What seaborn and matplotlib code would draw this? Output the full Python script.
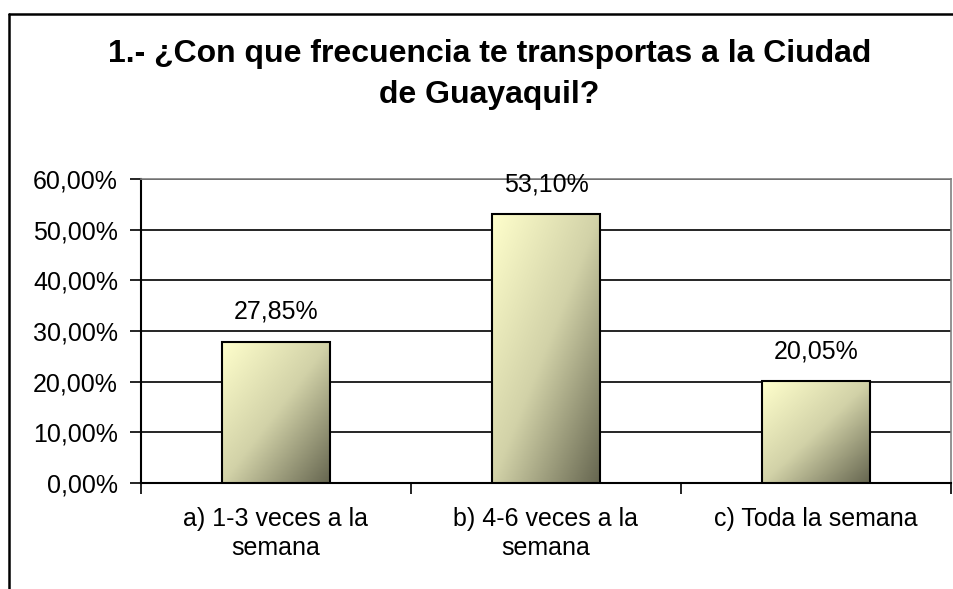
import numpy as np
import pandas as pd
import matplotlib
matplotlib.use("Agg")
import matplotlib.pyplot as plt
import seaborn as sns
from matplotlib.colors import LinearSegmentedColormap
from matplotlib.lines import Line2D
from matplotlib.ticker import FixedLocator, FuncFormatter

categories = ["a) 1-3 veces a la\nsemana", "b) 4-6 veces a la\nsemana", "c) Toda la semana"]
values = [27.85, 53.10, 20.05]
value_labels = ["27,85%", "53,10%", "20,05%"]
yticks = [0, 10, 20, 30, 40, 50, 60]
title_lines = ["1.- ¿Con que frecuencia te transportas a la Ciudad", "de Guayaquil?"]

sns.set_theme(style="white")
plt.rcParams['font.family'] = ['Liberation Sans', 'DejaVu Sans']
plt.rcParams['text.color'] = 'black'
plt.rcParams['xtick.color'] = 'black'
plt.rcParams['ytick.color'] = 'black'

fig = plt.figure(figsize=(9.54, 5.89), dpi=100)
ax = fig.add_axes([141/954, 1-483/589, 810/954, 304/589])

df = pd.DataFrame({"cat": categories, "val": values})
sns.barplot(data=df, x="cat", y="val", ax=ax, color="#d8d8b0", width=0.4,
            edgecolor="black", linewidth=1.5, zorder=3)

# gradient fill: top-left light yellow -> bottom-right dark olive
cmap = LinearSegmentedColormap.from_list("g", ["#ffffcc", "#d2d2a8", "#666650"])
n = 200
yy, xx = np.mgrid[0:1:n*1j, 0:1:n*1j]
grad = (xx + yy) / 2.0  # row 0 is top (origin upper)
for p in ax.patches:
    x0, y0 = p.get_x(), p.get_y()
    w, h = p.get_width(), p.get_height()
    im = ax.imshow(grad, cmap=cmap, extent=[x0, x0 + w, y0, y0 + h], origin="upper",
                   aspect="auto", zorder=3.5, interpolation="bilinear")
    im.set_clip_path(p)
    p.set_facecolor("none")
    p.set_zorder(4)

ax.set_xlim(-0.5, 2.5)
ax.set_ylim(0, 60)

for i, (v, lab) in enumerate(zip(values, value_labels)):
    ax.annotate(lab, (i, v), xytext=(0, 16.5), textcoords="offset points",
                ha="center", va="baseline", fontsize=18, color="black")

ax.yaxis.set_major_locator(FixedLocator(yticks))
ax.yaxis.set_major_formatter(FuncFormatter(lambda v, p: f"{v:.2f}".replace(".", ",") + "%"))
ax.grid(axis="y", color="black", linewidth=1.2, zorder=0)
ax.set_axisbelow(True)

ax.set_xlabel("")
ax.set_ylabel("")
ax.tick_params(axis="y", which="major", length=8, width=1.2, color="black", direction="out",
               labelsize=18, pad=8.5, left=True)
ax.tick_params(axis="x", which="major", length=0, labelsize=18, pad=17)
ax.set_xticks([-0.5, 0.5, 1.5, 2.5], minor=True)
ax.tick_params(axis="x", which="minor", length=8, width=1.2, color="black", direction="out", bottom=True)
for t in ax.get_xticklabels():
    t.set_linespacing(1.3)

for s in ["left", "bottom"]:
    ax.spines[s].set_color("black")
    ax.spines[s].set_linewidth(1.5)
for s in ["top", "right"]:
    ax.spines[s].set_color("#808080")
    ax.spines[s].set_linewidth(1.2)

fig.text(489.5/954, 1-62/589, title_lines[0], ha="center", va="baseline", fontsize=23,
         fontweight="bold")
fig.text(489.5/954, 1-103/589, title_lines[1], ha="center", va="baseline", fontsize=23,
         fontweight="bold")

# figure frame (left and top visible)
fig.add_artist(Line2D([9.5/954, 9.5/954], [-0.05, 1-13.5/589], color="black", linewidth=1.8,
                      transform=fig.transFigure))
fig.add_artist(Line2D([9.5/954, 1.05], [1-13.5/589, 1-13.5/589], color="black", linewidth=1.8,
                      transform=fig.transFigure))

fig.savefig("out.png", dpi=100)
